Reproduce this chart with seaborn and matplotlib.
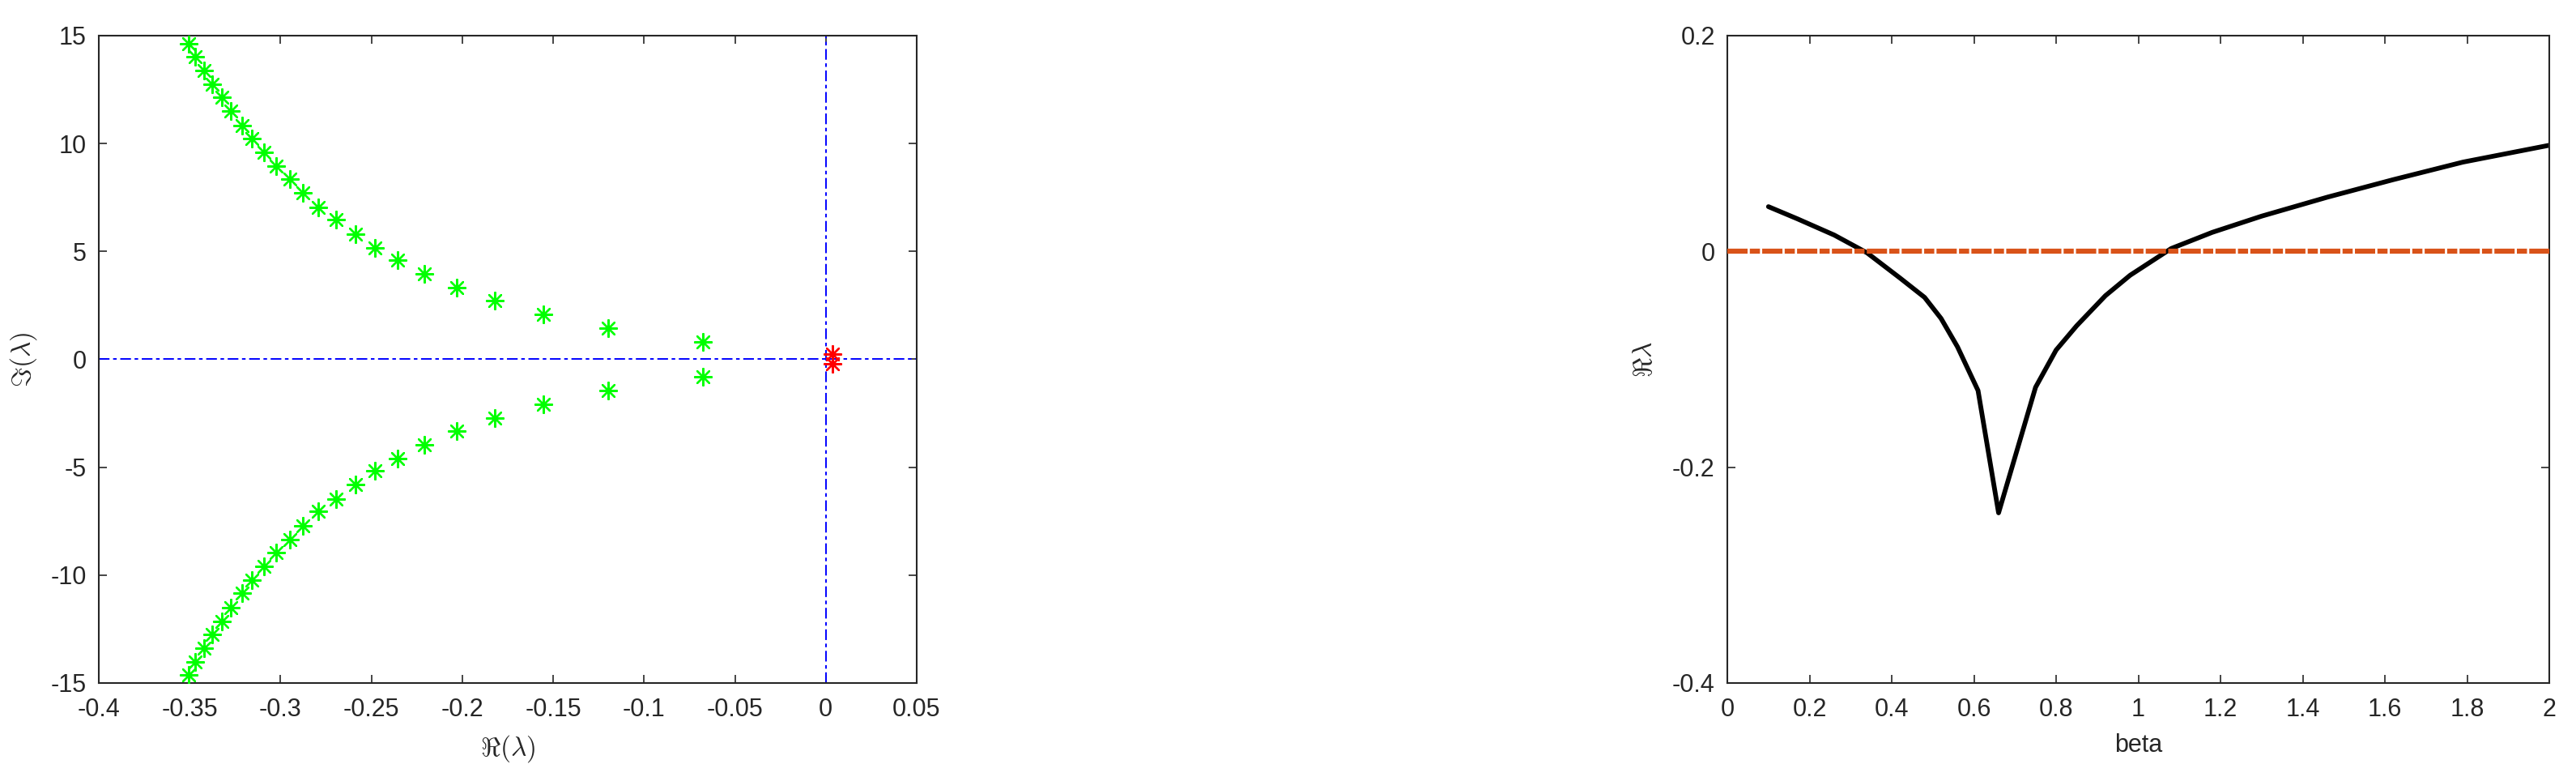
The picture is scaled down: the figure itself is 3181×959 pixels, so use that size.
import matplotlib
matplotlib.use('Agg')
import matplotlib.pyplot as plt
import seaborn as sns
import pandas as pd

# left panel: eigenvalues in the complex plane
re_upper = [-0.3507, -0.3468, -0.3419, -0.3376, -0.3323, -0.3274, -0.3212, -0.3159,
            -0.3090, -0.3024, -0.2949, -0.2877, -0.2791, -0.2693, -0.2588, -0.2482,
            -0.2358, -0.2207, -0.2029, -0.1822, -0.1556, -0.1198, -0.0676]
im_upper = [14.63, 14.01, 13.39, 12.75, 12.13, 11.49, 10.84, 10.22, 9.60, 8.94,
            8.34, 7.70, 7.05, 6.46, 5.79, 5.17, 4.59, 3.97, 3.33, 2.71, 2.07, 1.45, 0.80]
re_lower = [-0.3507, -0.3468, -0.3419, -0.3376, -0.3323, -0.3274, -0.3212, -0.3159,
            -0.3090, -0.3024, -0.2949, -0.2877, -0.2791, -0.2693, -0.2588, -0.2482,
            -0.2358, -0.2207, -0.2029, -0.1822, -0.1556, -0.1198, -0.0676]
im_lower = [-14.63, -14.01, -13.39, -12.75, -12.13, -11.49, -10.84, -10.22, -9.60, -8.94,
            -8.34, -7.70, -7.05, -6.46, -5.79, -5.17, -4.59, -3.97, -3.33, -2.71, -2.07, -1.45, -0.80]
re_unstable = [0.0036, 0.0036]
im_unstable = [0.24, -0.21]

left_xticks = [-0.4, -0.35, -0.3, -0.25, -0.2, -0.15, -0.1, -0.05, 0, 0.05]
left_xlabels = ['-0.4', '-0.35', '-0.3', '-0.25', '-0.2', '-0.15', '-0.1', '-0.05', '0', '0.05']
left_yticks = [-15, -10, -5, 0, 5, 10, 15]
left_ylabels = ['-15', '-10', '-5', '0', '5', '10', '15']

# right panel: leading real part vs beta
beta = [0.10, 0.17, 0.26, 0.34, 0.42, 0.48, 0.52, 0.56, 0.61, 0.66, 0.75, 0.80,
        0.85, 0.92, 0.98, 1.08, 1.18, 1.30, 1.46, 1.62, 1.79, 2.00]
re_lambda = [0.0415, 0.0303, 0.0152, -0.0013, -0.0246, -0.0426, -0.0621, -0.0884,
             -0.1289, -0.2423, -0.1259, -0.0914, -0.0689, -0.0410, -0.0221, 0.0027,
             0.0177, 0.0327, 0.0503, 0.0665, 0.0828, 0.0984]

right_xticks = [0, 0.2, 0.4, 0.6, 0.8, 1, 1.2, 1.4, 1.6, 1.8, 2]
right_xlabels = ['0', '0.2', '0.4', '0.6', '0.8', '1', '1.2', '1.4', '1.6', '1.8', '2']
right_yticks = [-0.4, -0.2, 0, 0.2]
right_ylabels = ['-0.4', '-0.2', '0', '0.2']

sns.set_style('ticks')
plt.rcParams['font.family'] = ['Liberation Sans', 'DejaVu Sans']
plt.rcParams['mathtext.fontset'] = 'cm'
plt.rcParams['axes.unicode_minus'] = False
plt.rcParams['lines.scale_dashes'] = False

axcol = '#262626'
fs = 22

fig = plt.figure(figsize=(31.81, 9.59), dpi=100)
ax1 = fig.add_axes([0.03835, 0.12096, 0.31751, 0.83316])
ax2 = fig.add_axes([0.67055, 0.12096, 0.31908, 0.83316])

asterisk = (8, 2, 0)

# zero lines first so the markers sit on top
ax1.axhline(0, color='blue', lw=1.4, dashes=(9.5, 3.2, 3.2, 3.2), zorder=1)
ax1.axvline(0, color='blue', lw=1.4, dashes=(9.5, 3.2, 3.2, 3.2), zorder=1)

df_up = pd.DataFrame({'re': re_upper, 'im': im_upper})
df_lo = pd.DataFrame({'re': re_lower, 'im': im_lower})
df_un = pd.DataFrame({'re': re_unstable, 'im': im_unstable})
for d, c in [(df_up, 'lime'), (df_lo, 'lime'), (df_un, 'red')]:
    sns.scatterplot(data=d, x='re', y='im', ax=ax1, color=c, marker=asterisk,
                    s=225, linewidth=1.7, zorder=3, legend=False)

ax1.set_xlim(-0.4, 0.05)
ax1.set_ylim(-15, 15)
ax1.set_xticks(left_xticks)
ax1.set_xticklabels(left_xlabels)
ax1.set_yticks(left_yticks)
ax1.set_yticklabels(left_ylabels)
ax1.set_xlabel(r'$\Re(\lambda)$', fontsize=fs + 2, color=axcol)
ax1.set_ylabel(r'$\Im(\lambda)$', fontsize=fs + 2, color=axcol)
ax1.xaxis.set_label_coords(0.5, -0.078)
ax1.yaxis.set_label_coords(-0.073, 0.5)

df_beta = pd.DataFrame({'beta': beta, 're': re_lambda})
sns.lineplot(data=df_beta, x='beta', y='re', ax=ax2, color='black', lw=4.2, zorder=2)
ax2.axhline(0, color='#D95319', lw=4.5, dashes=(18, 2, 9, 2), zorder=3)

ax2.set_xlim(0, 2)
ax2.set_ylim(-0.4, 0.2)
ax2.set_xticks(right_xticks)
ax2.set_xticklabels(right_xlabels)
ax2.set_yticks(right_yticks)
ax2.set_yticklabels(right_ylabels)
ax2.set_xlabel('beta', fontsize=fs, color=axcol)
ax2.set_ylabel(r'$\Re\lambda$', fontsize=fs + 2, color=axcol)
ax2.xaxis.set_label_coords(0.5, -0.078)
ax2.yaxis.set_label_coords(-0.085, 0.5)

for ax in (ax1, ax2):
    for sp in ax.spines.values():
        sp.set_visible(True)
        sp.set_color(axcol)
        sp.set_linewidth(1.5)
    ax.tick_params(axis='both', direction='in', length=7, width=1.2, colors=axcol,
                   labelsize=fs, top=True, right=True)
    ax.tick_params(axis='x', pad=13)
    ax.tick_params(axis='y', pad=11)

fig.savefig('out.png', dpi=100)
